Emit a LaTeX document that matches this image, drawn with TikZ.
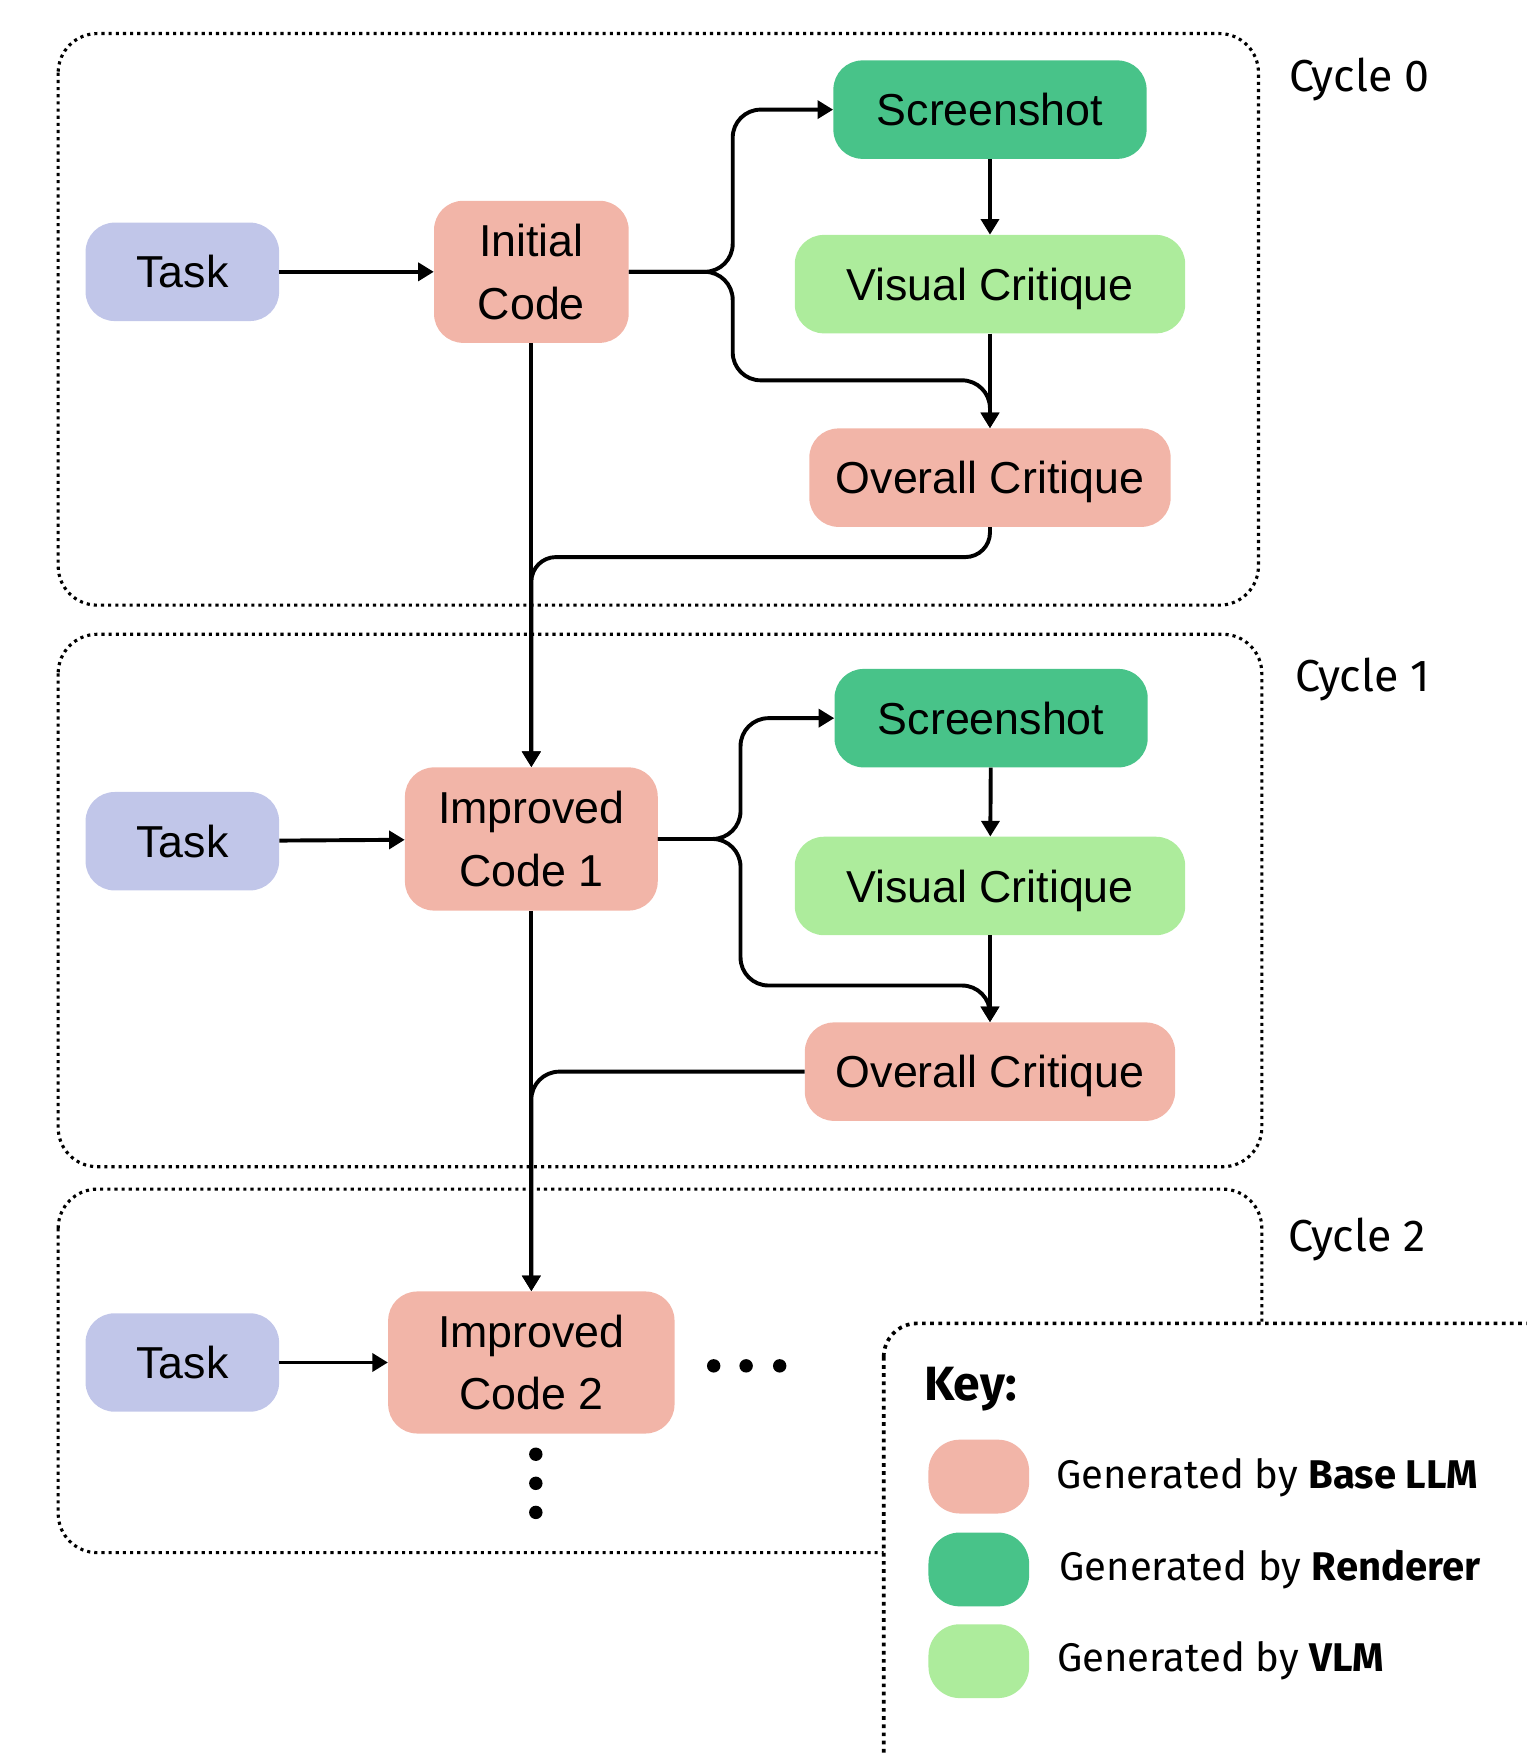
\documentclass[tikz,border=0pt]{standalone}
\usepackage{fontspec}
\setmainfont{Liberation Sans}
\newfontfamily\keyfont{Fira Sans}
\usetikzlibrary{arrows.meta}
\definecolor{taskc}{HTML}{C1C6E9}
\definecolor{llmc}{HTML}{F2B5A8}
\definecolor{rendc}{HTML}{48C389}
\definecolor{vlmc}{HTML}{ADEC9C}
\begin{document}
\begin{tikzpicture}[x=1pt,y=-1pt,
  box/.style={rounded corners=26pt, inner sep=0pt, align=center, font=\fontsize{40}{56}\selectfont},
  tasknode/.style={box, fill=taskc, minimum width=173pt, minimum height=88pt},
  llmnode/.style={box, fill=llmc},
  critnode/.style={box, fill=llmc, minimum height=88pt, text depth=0pt},
  rendnode/.style={box, fill=rendc, minimum width=280pt, minimum height=88pt},
  vlmnode/.style={box, fill=vlmc, minimum width=349pt, minimum height=88pt, text depth=0pt},
  arr/.style={line width=3.5pt, -{Triangle[length=14pt,width=16pt]}},
  cyclebox/.style={line width=2.8pt, dash pattern=on 2.8pt off 3.6pt, rounded corners=35pt},
  keybox/.style={line width=3.3pt, dash pattern=on 3.3pt off 4pt, rounded corners=30pt, fill=white},
  cyclelabel/.style={font=\keyfont\fontsize{40}{48}\selectfont, inner sep=0pt},
  keytext/.style={font=\keyfont\fontsize{35.8}{42}\selectfont, inner sep=0pt, anchor=west},
  swatch/.style={rounded corners=28pt, minimum width=90pt, minimum height=66pt, inner sep=0pt},
  dot/.style={fill=black}
]
\useasboundingbox (0,0) rectangle (1365,1568);
\clip (0,0) rectangle (1365,1568);

% cycle boxes
\draw[cyclebox] (52,30) rectangle (1125,541);
\draw[cyclebox] (52,567) rectangle (1128,1043);
\draw[cyclebox] (52,1063) rectangle (1128,1388);

\node[cyclelabel] (cl0) at (1215,71) {Cycle 0};
\node[cyclelabel] (cl1) at (1218,607) {Cycle 1};
\node[cyclelabel] (cl2) at (1213,1108) {Cycle 2};

% cycle 0 nodes
\node[tasknode] (t0) at (163,243) {Task};
\node[llmnode, minimum width=174pt, minimum height=127pt] (ic0) at (475,243) {Initial\\Code};
\node[rendnode] (ss0) at (885,98) {Screenshot};
\node[vlmnode] (vc0) at (885,254) {Visual Critique};
\node[critnode, minimum width=323pt] (oc0) at (885,427) {Overall Critique};

% cycle 1 nodes
\node[tasknode] (t1) at (163,752) {Task};
\node[llmnode, minimum width=226pt, minimum height=128pt] (ic1) at (475,750) {Improved\\Code 1};
\node[rendnode] (ss1) at (886,642) {Screenshot};
\node[vlmnode] (vc1) at (885,792) {Visual Critique};
\node[critnode, minimum width=331pt] (oc1) at (885,958) {Overall Critique};

% cycle 2 nodes
\node[tasknode] (t2) at (163,1218) {Task};
\node[llmnode, minimum width=256pt, minimum height=127pt] (ic2) at (475,1218) {Improved\\Code 2};

% helper coordinates
\coordinate (f0) at (655,243);
\coordinate (m0) at (885,340);
\coordinate (j0) at (475,498);
\coordinate (f1) at (662,750);
\coordinate (m1) at (885,881);
\coordinate (j1) at (475,958);

% cycle 0 connectors
\draw[arr] (t0) -- (ic0);
\draw[arr, rounded corners=25pt] (ic0.east) -- (f0) |- (ss0.west);
\draw[arr, rounded corners=25pt] (ic0.east) -- (f0) |- (m0) -- (oc0.north);
\draw[arr] (ss0) -- (vc0);
\draw[arr] (vc0) -- (oc0);
\draw[arr] (ic0) -- (ic1);
\draw[arr, rounded corners=22pt] (oc0.south) |- (j0) -- (ic1.north);

% cycle 1 connectors
\draw[arr] (t1) -- (ic1);
\draw[arr, rounded corners=25pt] (ic1.east) -- (f1) |- (ss1.west);
\draw[arr, rounded corners=25pt] (ic1.east) -- (f1) |- (m1) -- (oc1.north);
\draw[arr] (ss1) -- (vc1);
\draw[arr] (vc1) -- (oc1);
\draw[arr] (ic1) -- (ic2);
\draw[arr, rounded corners=25pt] (oc1.west) -- (j1) -- (ic2.north);

% cycle 2 connectors
\draw[arr] (t2) -- (ic2);

% ellipses
\fill[dot] (638,1221) circle (6pt);
\fill[dot] (667,1221) circle (6pt);
\fill[dot] (697,1221) circle (6pt);
\fill[dot] (479,1300) circle (6pt);
\fill[dot] (479,1326) circle (6pt);
\fill[dot] (479,1352) circle (6pt);

% key
\draw[keybox] (790,1183) rectangle (1420,1650);
\node[font=\keyfont\bfseries\fontsize{43}{50}\selectfont, inner sep=0pt, anchor=west] (keyt) at (826,1242) {Key:};
\node[swatch, fill=llmc] (k1) at (875,1320) {};
\node[swatch, fill=rendc] (k2) at (875,1403) {};
\node[swatch, fill=vlmc] (k3) at (875,1485) {};
\node[keytext] (kt1) at (944,1321) {Generated by \textbf{Base LLM}};
\node[keytext] (kt2) at (947,1403) {Generated by \textbf{Renderer}};
\node[keytext] (kt3) at (945,1485) {Generated by \textbf{VLM}};
\end{tikzpicture}
\end{document}
